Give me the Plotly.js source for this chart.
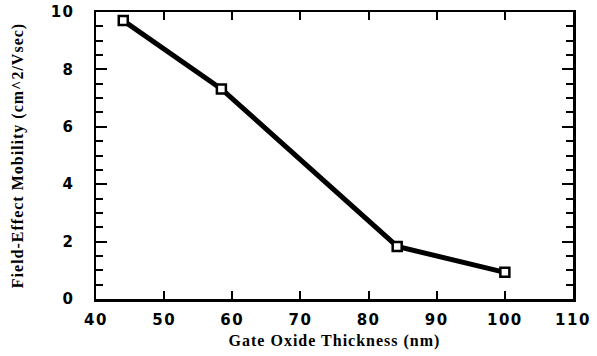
<!DOCTYPE html>
<html>
<head>
<meta charset="utf-8">
<script src="https://cdn.plot.ly/plotly-3.0.1.min.js"></script>
<style>html,body{margin:0;padding:0;background:#fff;}#chart{width:597px;height:356px;}
#chart .xtitle, #chart .ytitle {letter-spacing: 1px;}
#chart .xtick text, #chart .ytick text {letter-spacing: 1.5px;}
</style>
</head>
<body>
<div id="chart"></div>
<script>
const thickness = [44, 58.4, 84.2, 100];
const mobility = [9.7, 7.32, 1.83, 0.93];
const xTicks = [40, 50, 60, 70, 80, 90, 100, 110];
const yTicks = [0, 2, 4, 6, 8, 10];

const trace = {
  x: thickness,
  y: mobility,
  mode: 'lines+markers',
  line: {color: '#000', width: 5},
  marker: {symbol: 'square', size: 9, color: '#fff', line: {color: '#000', width: 2.5}},
  showlegend: false
};

const tickFont = {family: 'DejaVu Sans', size: 15, color: '#000', weight: 'bold'};

const layout = {
  width: 597, height: 356,
  margin: {l: 96, r: 24, t: 12, b: 57},
  paper_bgcolor: '#fff', plot_bgcolor: '#fff',
  xaxis: {
    range: [40, 110], tickvals: xTicks, ticktext: xTicks.map(String),
    showgrid: false, zeroline: false, showline: true, linewidth: 2.5, linecolor: '#000',
    mirror: 'ticks', ticks: 'inside', ticklen: 8, tickwidth: 2, tickcolor: '#000',
    tickfont: tickFont, ticklabelstandoff: 5,
    title: {text: 'Gate Oxide Thickness (nm)', font: {family: 'Liberation Serif', size: 16, color: '#000', weight: 'bold'}, standoff: 8}
  },
  yaxis: {
    range: [0, 10], tickvals: yTicks, ticktext: yTicks.map(String),
    showgrid: false, zeroline: false, showline: true, linewidth: 2.5, linecolor: '#000',
    mirror: 'ticks', ticks: 'inside', ticklen: 11, tickwidth: 2, tickcolor: '#000',
    tickfont: tickFont, ticklabelstandoff: 16,
    minor: {dtick: 0.5, ticks: 'inside', ticklen: 7, tickwidth: 2, tickcolor: '#000', showgrid: false},
    title: {text: 'Field-Effect Mobility (cm^2/Vsec)', font: {family: 'Liberation Serif', size: 16, color: '#000', weight: 'bold'}, standoff: 26}
  }
};

Plotly.newPlot('chart', [trace], layout, {staticPlot: true, displayModeBar: false});
</script>
</body>
</html>
